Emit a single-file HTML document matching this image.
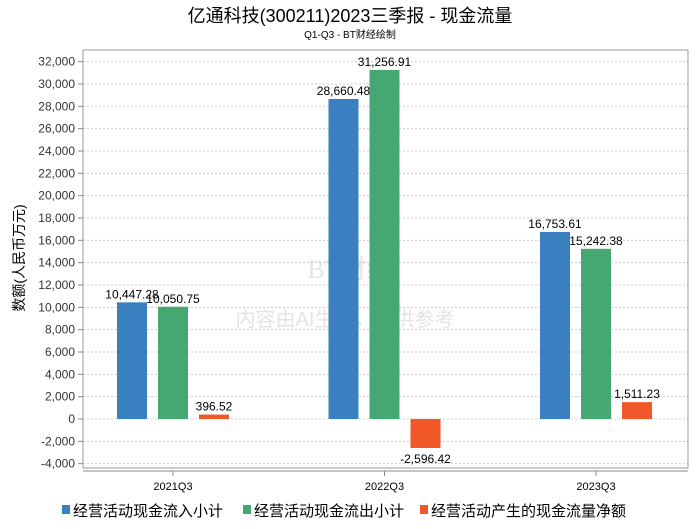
<!DOCTYPE html>
<html><head><meta charset="utf-8"><style>
body{margin:0;background:#fff;font-family:"Liberation Sans","Noto Sans CJK SC",sans-serif}
</style></head><body>
<svg id="c" width="700" height="524" xmlns="http://www.w3.org/2000/svg" font-family="Liberation Sans, Noto Sans CJK SC, sans-serif"></svg>
<script>
const categories=["2021Q3","2022Q3","2023Q3"];
const seriesNames=["经营活动现金流入小计","经营活动现金流出小计","经营活动产生的现金流量净额"];
const inflow=[10447.28,28660.48,16753.61];
const outflow=[10050.75,31256.91,15242.38];
const net=[396.52,-2596.42,1511.23];
const yTicks=[-4000,-2000,0,2000,4000,6000,8000,10000,12000,14000,16000,18000,20000,22000,24000,26000,28000,30000,32000];
const colors=["#3a80c0","#45a872","#f0582a"];
const svg=document.getElementById('c');
const NS="http://www.w3.org/2000/svg";
function mk(t,a,p){const e=document.createElementNS(NS,t);for(const k in a)e.setAttribute(k,a[k]);(p||svg).appendChild(e);return e;}
const L=83,R=688,T=50,B=468;
const y=v=>419-v*(402/36000);
const x=i=>173+i*211.5;
let t=mk('text',{x:350,y:22,'text-anchor':'middle','font-size':18,fill:'#000'});t.textContent="亿通科技(300211)2023三季报 - 现金流量";

t=mk('text',{x:350,y:38,'text-anchor':'middle','font-size':10,fill:'#000'});t.textContent="Q1-Q3 - BT财经绘制";

let wm=mk('text',{x:350,y:278,'text-anchor':'middle','font-size':26,fill:'#e4e4e4','font-family':'Liberation Serif, serif'});wm.textContent="BT财经";

wm=mk('text',{x:345,y:326,'text-anchor':'middle','font-size':20,fill:'#e4e4e4'});wm.textContent="内容由AI生成，仅供参考";

yTicks.forEach(v=>{
 const g=mk('line',{x1:L,x2:R,y1:y(v),y2:y(v),stroke:'#ccc','stroke-dasharray':'2,2'});
 
 mk('line',{x1:L-5,x2:L,y1:y(v),y2:y(v),stroke:'#888'});
 const l=mk('text',{x:L-8,y:y(v)+4,'text-anchor':'end','font-size':12,fill:'#333'});l.textContent=v.toLocaleString('en-US');
 
});
const fr=mk('rect',{x:L,y:T,width:R-L,height:B-T,fill:'none',stroke:'#999'});

mk('line',{x1:L,x2:R,y1:471,y2:471,stroke:'#888'});
const yt=mk('text',{x:0,y:0,'text-anchor':'middle','font-size':14,fill:'#000',transform:'translate(24,258) rotate(-90)'});yt.textContent="数额(人民币万元)";

const series=[inflow,outflow,net];
categories.forEach((c,i)=>{
 mk('line',{x1:x(i),x2:x(i),y1:471,y2:476,stroke:'#888'});
 const l=mk('text',{x:x(i),y:490,'text-anchor':'middle','font-size':11,fill:'#000'});l.textContent=c;
 
 series.forEach((s,j)=>{
  const v=s[i],cx=x(i)+(j-1)*41,top=Math.min(y(v),y(0)),h=Math.abs(y(v)-y(0));
  const b=mk('rect',{x:cx-15,y:top,width:30,height:h,fill:colors[j]});
  
  const lb=mk('text',{x:cx,y:v>=0?y(v)-4:y(v)+15,'text-anchor':'middle','font-size':12,fill:'#000'});
  lb.textContent=v.toLocaleString('en-US',{minimumFractionDigits:2});
  
 });
});
const lx=[62,243,420];
seriesNames.forEach((n,j)=>{
 const g=mk('g',{});
 
 mk('rect',{x:lx[j],y:505,width:8,height:9,fill:colors[j]},g);
 const tx=mk('text',{x:lx[j]+11,y:516,'font-size':15,fill:'#000'},g);tx.textContent=n;
});
</script></body></html>
